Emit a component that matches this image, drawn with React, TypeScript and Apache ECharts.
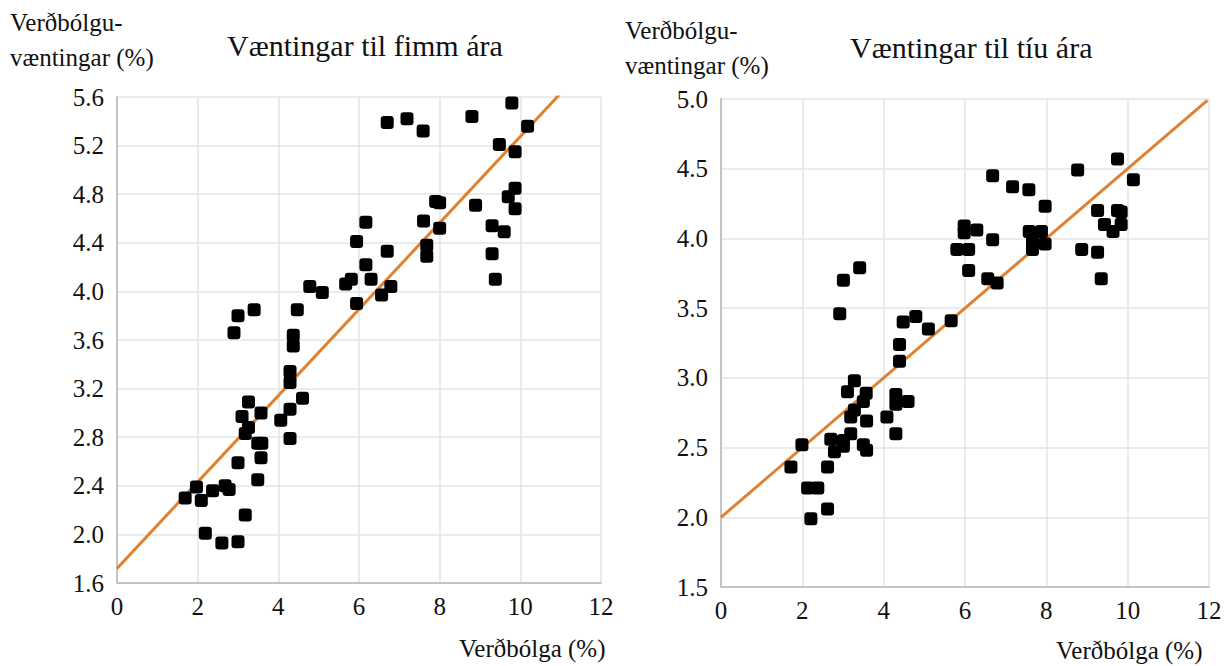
import React, { useEffect, useRef } from "react";
import * as echarts from "echarts";

// Left panel: five-year expectations [inflation, expectations]
const fiveYearPoints: [number, number][] = [
  [2.9, 3.66], [4.37, 3.64], [4.37, 3.55], [4.29, 3.34], [4.29, 3.25],
  [4.6, 3.12], [3.26, 3.09], [4.29, 3.03], [3.57, 3.0], [3.1, 2.97],
  [4.06, 2.94], [3.26, 2.88], [3.18, 2.83], [4.29, 2.79], [3.49, 2.75],
  [3.59, 2.75], [3.0, 2.59], [3.57, 2.63], [3.49, 2.45], [1.97, 2.39],
  [2.68, 2.4], [2.78, 2.37], [2.37, 2.36], [1.69, 2.3], [2.09, 2.28],
  [3.18, 2.16], [2.19, 2.01], [2.6, 1.93], [3.0, 1.94],
  [5.94, 4.41], [5.81, 4.1], [5.67, 4.06], [4.78, 4.04], [5.09, 3.99],
  [5.94, 3.9], [3.4, 3.85], [3.0, 3.8], [4.47, 3.85],
  [9.79, 5.55], [6.7, 5.39], [7.19, 5.42], [7.59, 5.32], [8.8, 5.44],
  [10.18, 5.36], [9.48, 5.21], [9.87, 5.15], [9.87, 4.85], [9.7, 4.78],
  [9.87, 4.68], [7.9, 4.74], [8.0, 4.73], [8.89, 4.71], [6.17, 4.57],
  [7.6, 4.58], [9.3, 4.54], [9.6, 4.49], [8.0, 4.52], [7.68, 4.38],
  [7.68, 4.29], [6.7, 4.33], [9.3, 4.31], [6.17, 4.22], [6.3, 4.1],
  [6.79, 4.04], [6.56, 3.97], [9.38, 4.1],
];
const fiveYearTrend: [number, number][] = [[0, 1.72], [10.97, 5.62]];

// Right panel: ten-year expectations
const tenYearPoints: [number, number][] = [
  [5.98, 4.09], [5.98, 4.04], [5.8, 3.92], [6.09, 3.92], [6.09, 3.77],
  [3.41, 3.79], [3.01, 3.7], [2.92, 3.46], [4.48, 3.4], [4.79, 3.44],
  [5.1, 3.35], [5.66, 3.41], [4.39, 3.24], [9.75, 4.57], [8.77, 4.49],
  [6.68, 4.45], [7.17, 4.37], [7.57, 4.35], [10.14, 4.42], [7.97, 4.23],
  [9.26, 4.2], [9.64, 4.05], [9.75, 4.2], [6.29, 4.06], [9.43, 4.1],
  [9.84, 4.1], [9.84, 4.19], [7.58, 4.05], [7.88, 4.05], [7.66, 3.99],
  [6.68, 3.99], [7.97, 3.96], [7.66, 3.92], [8.87, 3.92], [9.26, 3.9],
  [6.56, 3.71], [6.79, 3.68], [9.35, 3.71], [4.39, 3.12], [3.28, 2.98],
  [3.11, 2.9], [3.57, 2.89], [3.5, 2.83], [4.3, 2.88], [4.3, 2.81],
  [4.6, 2.83], [3.28, 2.77], [3.19, 2.72], [3.58, 2.69], [4.08, 2.72],
  [3.19, 2.6], [2.7, 2.56], [4.3, 2.6], [1.99, 2.52], [3.01, 2.55],
  [3.01, 2.51], [3.5, 2.52], [3.58, 2.48], [2.79, 2.47], [1.72, 2.36],
  [2.62, 2.36], [2.13, 2.21], [2.38, 2.21], [2.62, 2.06], [2.21, 1.99],
];
const tenYearTrend: [number, number][] = [[0, 2.0], [11.96, 4.99]];

const titles = ["Væntingar til fimm ára", "Væntingar til tíu ára"];
const yNameLines = ["Verðbólgu-", "væntingar (%)"];
const xName = "Verðbólga (%)";

const FONT = "Liberation Serif";
const TEXT = "#111";
const ORANGE = "#e0812f";

export default function App() {
  const ref = useRef<HTMLDivElement>(null);
  useEffect(() => {
    if (!ref.current) return;
    const chart = echarts.init(ref.current, undefined, { renderer: "svg" });
    const xAxisBase = {
      type: "value" as const,
      min: 0,
      max: 12,
      interval: 2,
      axisLine: { show: true, onZero: false, lineStyle: { color: "#c4c4c4", width: 2 } },
      axisTick: { show: false },
      splitLine: { show: true, lineStyle: { color: "#e4e4e4", width: 1.5 } },
      axisLabel: { color: TEXT, fontFamily: FONT, fontSize: 25, margin: 11 },
    };
    const yAxisBase = {
      type: "value" as const,
      axisLine: { show: true, onZero: false, lineStyle: { color: "#c4c4c4", width: 2 } },
      axisTick: { show: false },
      splitLine: { show: true, lineStyle: { color: "#e4e4e4", width: 1.5 } },
      axisLabel: {
        color: TEXT,
        fontFamily: FONT,
        fontSize: 25,
        margin: 13,
        formatter: (v: number) => v.toFixed(1),
      },
    };
    const scatterStyle = {
      type: "scatter" as const,
      symbol: "roundRect",
      symbolSize: 13,
      itemStyle: { color: "#000", opacity: 1 },
      z: 3,
    };
    const lineStyle = {
      type: "line" as const,
      showSymbol: false,
      symbol: "none",
      lineStyle: { color: ORANGE, width: 3 },
      z: 2,
    };
    const yName = (x: number, y: number) => ({
      type: "text",
      left: x,
      top: y,
      style: {
        text: yNameLines.join("\n"),
        fontFamily: FONT,
        fontSize: 25,
        fill: TEXT,
        lineHeight: 35,
      },
    });
    const xNameText = (x: number, y: number) => ({
      type: "text",
      left: x,
      top: y,
      style: { text: xName, fontFamily: FONT, fontSize: 25, fill: TEXT },
    });
    chart.setOption({
      animation: false,
      title: [
        {
          text: titles[0],
          left: 222,
          top: 25,
          textStyle: { fontFamily: FONT, fontSize: 30, fontWeight: "normal", color: TEXT },
        },
        {
          text: titles[1],
          left: 845,
          top: 27,
          textStyle: { fontFamily: FONT, fontSize: 30, fontWeight: "normal", color: TEXT },
        },
      ],
      grid: [
        { left: 117, top: 97, width: 484, height: 486 },
        { left: 721, top: 99, width: 488, height: 488 },
      ],
      xAxis: [
        { ...xAxisBase, gridIndex: 0 },
        { ...xAxisBase, gridIndex: 1 },
      ],
      yAxis: [
        { ...yAxisBase, gridIndex: 0, min: 1.6, max: 5.6, interval: 0.4 },
        { ...yAxisBase, gridIndex: 1, min: 1.5, max: 5.0, interval: 0.5 },
      ],
      series: [
        { ...lineStyle, xAxisIndex: 0, yAxisIndex: 0, data: fiveYearTrend },
        { ...scatterStyle, xAxisIndex: 0, yAxisIndex: 0, data: fiveYearPoints },
        { ...lineStyle, xAxisIndex: 1, yAxisIndex: 1, data: tenYearTrend },
        { ...scatterStyle, xAxisIndex: 1, yAxisIndex: 1, data: tenYearPoints },
      ],
      graphic: [
        yName(10, 5),
        yName(625, 13),
        xNameText(459, 636),
        xNameText(1056, 638),
      ],
    });
    return () => chart.dispose();
  }, []);
  return (
    <div
      ref={ref}
      style={{ position: "fixed", left: 0, top: 0, width: 1228, height: 666, background: "#fff" }}
    />
  );
}
